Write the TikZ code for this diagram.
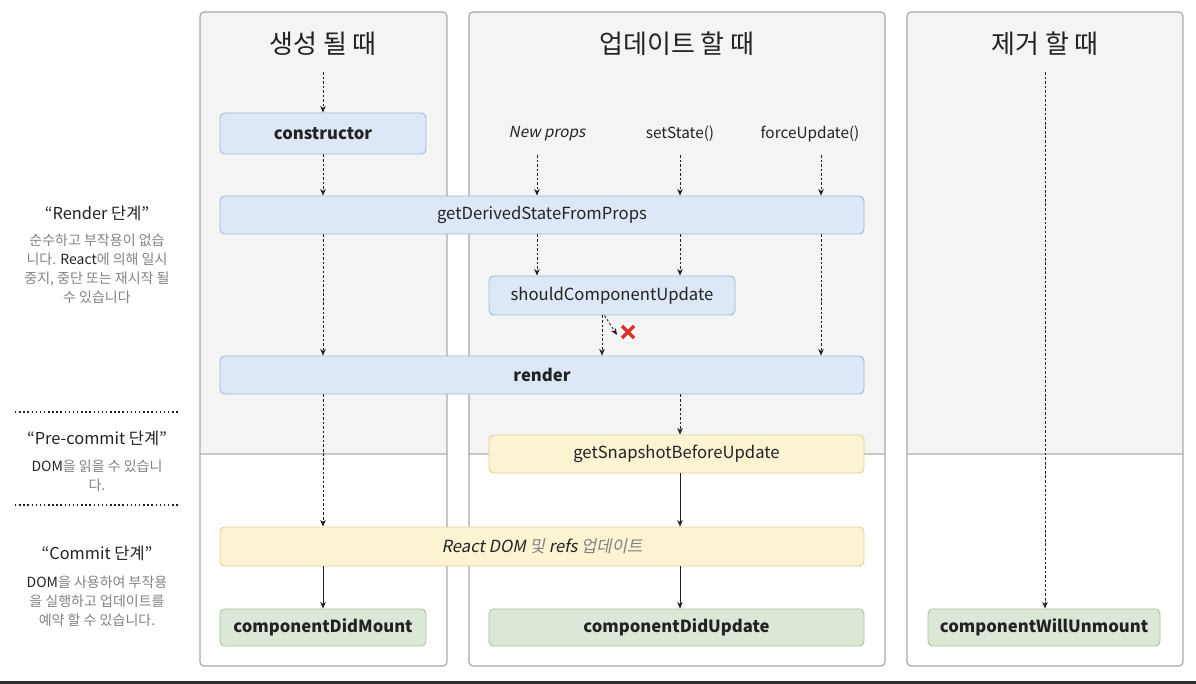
\documentclass[tikz,border=0pt]{standalone}
\usepackage{fontspec}
\setmainfont{Noto Sans CJK KR}[AutoFakeSlant=0.2]
\usetikzlibrary{arrows.meta}
\definecolor{panelborder}{HTML}{A8A8A8}
\definecolor{panelgray}{HTML}{F4F4F4}
\definecolor{divider}{HTML}{C9C9C9}
\definecolor{bluefill}{HTML}{DCE7F8}
\definecolor{blueline}{HTML}{A3B9D8}
\definecolor{yelfill}{HTML}{FBF3D2}
\definecolor{yelline}{HTML}{E2D197}
\definecolor{grnfill}{HTML}{DCE8D7}
\definecolor{grnline}{HTML}{A9C59E}
\definecolor{txt}{HTML}{222222}
\definecolor{desc}{HTML}{828282}
\definecolor{arrowc}{HTML}{1E1E1E}
\definecolor{xred}{HTML}{D8322B}
\definecolor{barc}{HTML}{2E2E2E}
\begin{document}
\begin{tikzpicture}[x=0.75pt,y=-0.75pt,
  panel/.style={draw=panelborder, line width=0.9pt, rounded corners=3pt},
  box/.style={rounded corners=3.5pt, line width=0.7pt, text=txt, inner sep=0pt,
    font=\fontsize{12.5}{15}\selectfont},
  bsize/.style 2 args={minimum width=#1*0.75pt, minimum height=#2*0.75pt},
  bluebox/.style={box, fill=bluefill, draw=blueline},
  yelbox/.style={box, fill=yelfill, draw=yelline},
  grnbox/.style={box, fill=grnfill, draw=grnline},
  header/.style={text=txt, font=\fontsize{19.5}{23}\selectfont},
  trig/.style={text=txt, font=\fontsize{11.5}{14}\selectfont},
  phase/.style={text=txt, font=\fontsize{12.3}{15}\selectfont},
  desc/.style={text=desc, align=center, font=\fontsize{10.5}{14.3}\selectfont},
  dar/.style={-{Stealth[length=5pt,width=4.2pt]}, dash pattern=on 2pt off 1.4pt, line width=0.6pt, draw=arrowc},
  sar/.style={-{Stealth[length=5pt,width=4.2pt]}, line width=0.6pt, draw=arrowc},
  sep/.style={dotted, line width=1.1pt, draw=arrowc}
]
\path[use as bounding box] (0,0) rectangle (1196,684);
% panels
\foreach \a/\b in {200/447, 469/885, 907/1183}{
  \fill[white, rounded corners=3pt] (\a,12) rectangle (\b,666);
  \fill[panelgray, rounded corners=3pt] (\a,454) -- (\a,12) -- (\b,12) -- (\b,454) [sharp corners] -- cycle;
  \fill[panelgray] (\a,440) rectangle (\b,454);
  \draw[divider, line width=0.8pt] (\a,454) -- (\b,454);
  \draw[panel] (\a,12) rectangle (\b,666);
}
\fill[barc] (0,681) rectangle (1196,684);

% headers
\node[header] (h1) at (323,44) {생성 될 때};
\node[header] (h2) at (677,44) {업데이트 할 때};
\node[header] (h3) at (1045,44) {제거 할 때};
\coordinate (s1) at (323,72);
\coordinate (s3) at (1045,72);

% triggers
\node[trig] (np) at (547,134) {\textit{New props}};
\node[trig] (ss) at (680,134) {setState()};
\node[trig] (fu) at (810,134) {forceUpdate()};
\coordinate (t1) at (537,155);
\coordinate (t2) at (680,155);
\coordinate (t3) at (821,155);

% boxes
\node[bluebox, bsize={206}{41}] (ctor) at (323,133.5) {\textbf{constructor}};
\node[bluebox, bsize={644}{38}] (gdsfp) at (542,215) {getDerivedStateFromProps};
\node[bluebox, bsize={246}{39}] (scu) at (612,295.5) {shouldComponentUpdate};
\node[bluebox, bsize={644}{38}] (render) at (542,375) {\textbf{render}};
\node[yelbox, bsize={375}{38}] (gsbu) at (676.5,454) {getSnapshotBeforeUpdate};
\node[yelbox, bsize={644}{39}] (rdom) at (542,546.5) {\textit{React DOM} \textcolor{desc}{\textit{및}} \textit{refs} \textcolor{desc}{\textit{업데이트}}};
\node[grnbox, bsize={206}{37}] (cdm) at (323,627.5) {\textbf{componentDidMount}};
\node[grnbox, bsize={375}{37}] (cdu) at (676.5,627.5) {\textbf{componentDidUpdate}};
\node[grnbox, bsize={232}{37}] (cwu) at (1044,627.5) {\textbf{componentWillUnmount}};

% column 1 arrows
\draw[dar] (s1) -- (ctor.north);
\draw[dar] (ctor.south) -- (ctor.south |- gdsfp.north);
\draw[dar] (gdsfp.south -| ctor.south) -- (ctor.south |- render.north);
\draw[dar] (render.south -| ctor.south) -- (ctor.south |- rdom.north);
\draw[sar] (rdom.south -| cdm.north) -- (cdm.north);

% column 2 arrows
\draw[dar] (t1) -- (t1 |- gdsfp.north);
\draw[dar] (t2) -- (t2 |- gdsfp.north);
\draw[dar] (t3) -- (t3 |- gdsfp.north);
\draw[dar] (gdsfp.south -| t1) -- (t1 |- scu.north);
\draw[dar] (gdsfp.south -| t2) -- (t2 |- scu.north);
\draw[dar] (gdsfp.south -| t3) -- (t3 |- render.north);
\coordinate (sc1) at (602,315);
\draw[dar] (scu.south -| sc1) -- (sc1 |- render.north);
\coordinate (xm) at (628,332);
\draw[dar] ([xshift=2.5*0.75pt]scu.south -| sc1) -- ([xshift=-11*0.75pt, yshift=-3*0.75pt]xm);
\draw[xred, line width=2.4pt] ([xshift=-6*0.75pt, yshift=-6*0.75pt]xm) -- ([xshift=6*0.75pt, yshift=6*0.75pt]xm)
  ([xshift=-6*0.75pt, yshift=6*0.75pt]xm) -- ([xshift=6*0.75pt, yshift=-6*0.75pt]xm);
\draw[dar] (render.south -| t2) -- (t2 |- gsbu.north);
\draw[sar] (gsbu.south -| t2) -- (t2 |- rdom.north);
\draw[sar] (rdom.south -| t2) -- (t2 |- cdu.north);

% column 3 arrow
\draw[dar] (s3) -- (s3 |- cwu.north);

% left phase labels
\node[phase] (p1) at (97,213) {“Render 단계”};
\node[desc, anchor=north] (d1) at (97,229) {순수하고 부작용이 없습\\니다. \textcolor{txt}{React}에 의해 일시\\중지, 중단 또는 재시작 될\\수 있습니다};
\coordinate (l1a) at (15,412);
\coordinate (l1b) at (178,412);
\draw[sep] (l1a) -- (l1b);
\node[phase] (p2) at (97,438) {“Pre-commit 단계”};
\node[desc, anchor=north] (d2) at (97,455) {\textcolor{txt}{DOM}을 읽을 수 있습니\\다.};
\coordinate (l2a) at (15,505);
\coordinate (l2b) at (178,505);
\draw[sep] (l2a) -- (l2b);
\node[phase] (p3) at (97,553) {“Commit 단계”};
\node[desc, anchor=north] (d3) at (97,571) {\textcolor{txt}{DOM}을 사용하여 부작용\\을 실행하고 업데이트를\\예약 할 수 있습니다.};
\end{tikzpicture}
\end{document}
